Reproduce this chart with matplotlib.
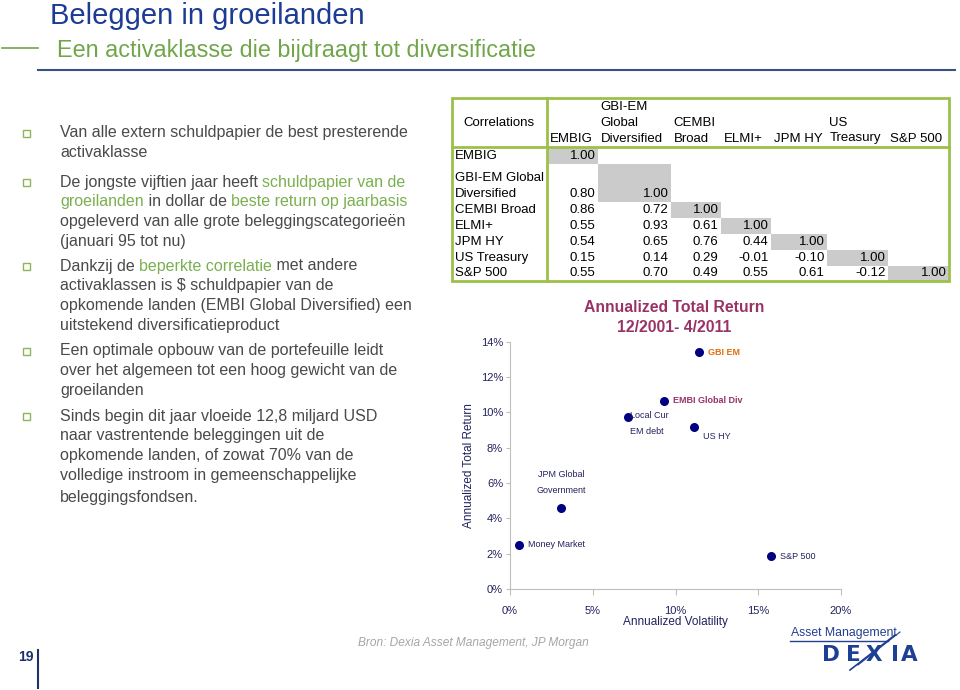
import matplotlib
matplotlib.use("Agg")
import matplotlib.pyplot as plt
from matplotlib.patches import Rectangle
from matplotlib.font_manager import FontProperties

plt.rcParams['font.family'] = ['Liberation Sans', 'DejaVu Sans']

# ---- slide texts ----
title = "Beleggen in groeilanden"
subtitle = "Een activaklasse die bijdraagt tot diversificatie"
source = "Bron: Dexia Asset Management, JP Morgan"
page_no = "19"

# each bullet is a list of lines, each line a list of (text, highlighted)
bullets = [
    [[("Van alle extern schuldpapier de best presterende", 0)],
     [("activaklasse", 0)]],
    [[("De jongste vijftien jaar heeft ", 0), ("schuldpapier van de", 1)],
     [("groeilanden", 1), (" in dollar de ", 0), ("beste return op jaarbasis", 1)],
     [("opgeleverd van alle grote beleggingscategorieën", 0)],
     [("(januari 95 tot nu)", 0)]],
    [[("Dankzij de ", 0), ("beperkte correlatie", 1), (" met andere", 0)],
     [("activaklassen is $ schuldpapier van de", 0)],
     [("opkomende landen (EMBI Global Diversified) een", 0)],
     [("uitstekend diversificatieproduct", 0)]],
    [[("Een optimale opbouw van de portefeuille leidt", 0)],
     [("over het algemeen tot een hoog gewicht van de", 0)],
     [("groeilanden", 0)]],
    [[("Sinds begin dit jaar vloeide 12,8 miljard USD", 0)],
     [("naar vastrentende beleggingen uit de", 0)],
     [("opkomende landen, of zowat 70% van de", 0)],
     [("volledige instroom in gemeenschappelijke", 0)],
     [("beleggingsfondsen.", 0)]],
]

# ---- correlation table ----
corr_cols = ["EMBIG", "GBI-EM\nGlobal\nDiversified", "CEMBI\nBroad", "ELMI+",
             "JPM HY", "US\nTreasury", "S&P 500"]
corr_rows = ["EMBIG", "GBI-EM Global\nDiversified", "CEMBI Broad", "ELMI+",
             "JPM HY", "US Treasury", "S&P 500"]
corr = [
    [1.00],
    [0.80, 1.00],
    [0.86, 0.72, 1.00],
    [0.55, 0.93, 0.61, 1.00],
    [0.54, 0.65, 0.76, 0.44, 1.00],
    [0.15, 0.14, 0.29, -0.01, -0.10, 1.00],
    [0.55, 0.70, 0.49, 0.55, 0.61, -0.12, 1.00],
]

# ---- risk / return scatter ----
assets = ["GBI EM", "EMBI Global Div", "Local Cur\nEM debt", "US HY",
          "JPM Global\nGovernment", "Money Market", "S&P 500"]
volatility = [11.4, 9.3, 7.1, 11.1, 3.1, 0.55, 15.75]   # %
total_return = [13.4, 10.65, 9.75, 9.15, 4.6, 2.5, 1.85]  # %

NAVY = '#1c3c94'
BODY = '#4a4a4a'
HILITE = '#7ab04f'
TGREEN = '#9dc04b'

fig = plt.figure(figsize=(9.6, 6.9), dpi=100)
# overlay in pixel units for the slide furniture
ov = fig.add_axes([0, 0, 1, 1])
ov.set_xlim(0, 960)
ov.set_ylim(690, 0)
ov.axis('off')

renderer = fig.canvas.get_renderer()


def advance(s, fp):
    # width of s including trailing spaces
    w1, _, _ = renderer.get_text_width_height_descent(s + "x", fp, ismath=False)
    w2, _, _ = renderer.get_text_width_height_descent("x", fp, ismath=False)
    return w1 - w2


# title block
ov.text(50, 24, title, fontsize=21, color=NAVY, va='baseline')
ov.text(57, 57, subtitle, fontsize=16.8, color='#70a64a', va='baseline')
ov.plot([2, 38], [48, 48], color='#70a64a', lw=1.2)
ov.plot([38, 955], [69.5, 69.5], color='#3a4f86', lw=1.5)

# bullets
body_size = 11.5
fp = FontProperties(family=['Liberation Sans'], size=body_size)
bullet_y = [133, 182, 266, 351, 416]
for b, y0 in zip(bullets, bullet_y):
    ov.add_patch(Rectangle((23, y0 - 3.5), 7, 7, fill=False, ec='#8fb35a', lw=1.0))
    for i, line in enumerate(b):
        y = y0 + i * 19.8
        if b is bullets[-1] and i == len(b) - 1:
            y += 2
        prefix = ""
        for txt, hl in line:
            x = 60 + (advance(prefix, fp) if prefix else 0)
            ov.text(x, y, txt, fontsize=body_size, color=HILITE if hl else BODY,
                    va='center', ha='left')
            prefix += txt

# table
col_edges = [547, 598, 671, 721, 771, 827, 888, 949]
row_edges = [147, 164, 202, 218, 234, 250, 266, 281]
tsize = 9.5
for i in range(len(corr_rows)):
    ov.add_patch(Rectangle((col_edges[i], row_edges[i]), col_edges[i + 1] - col_edges[i],
                           row_edges[i + 1] - row_edges[i], color='#cbcbcb', lw=0))
ov.add_patch(Rectangle((452, 98), 949 - 452, 281 - 98, fill=False, ec=TGREEN, lw=2))
ov.plot([547, 547], [98, 281], color=TGREEN, lw=2)
ov.plot([452, 949], [147, 147], color=TGREEN, lw=2)
ov.text(499, 123, "Correlations", fontsize=tsize, ha='center', va='center')
for j, lab in enumerate(corr_cols):
    parts = lab.split("\n")
    for k, p in enumerate(parts):
        ov.text(col_edges[j] + 2.5, 138.5 - 15.5 * (len(parts) - 1 - k), p,
                fontsize=tsize, ha='left', va='center')
for i, lab in enumerate(corr_rows):
    parts = lab.split("\n")
    yb = row_edges[i + 1] - 8
    for k, p in enumerate(parts):
        ov.text(455, yb - 16 * (len(parts) - 1 - k), p, fontsize=tsize,
                ha='left', va='center')
    for j, v in enumerate(corr[i]):
        ov.text(col_edges[j + 1] - 2.5, yb, f"{v:.2f}", fontsize=tsize,
                ha='right', va='center')

# chart title
ov.text(674, 307, "Annualized Total Return", fontsize=11.3, fontweight='bold',
        color='#993366', ha='center', va='center')
ov.text(674, 328, "12/2001- 4/2011", fontsize=11.3, fontweight='bold',
        color='#993366', ha='center', va='center')

# footer
ov.text(358, 643, source, fontsize=8.6, style='italic', color='#a6a6a6', va='center')
ov.text(26, 657, page_no, fontsize=10, fontweight='bold', color='#1f2f6a',
        ha='center', va='center')
ov.plot([38, 38], [650, 688], color='#1f2f6a', lw=1.5)

# logo
ov.text(791, 633, "Asset Management", fontsize=8.8, color='#23408f', va='center')
ov.plot([790, 888], [640.5, 640.5], color='#23408f', lw=1)
for ch, xc in zip("DEXIA", [831, 853, 874, 895, 909]):
    ov.text(xc, 655, ch, fontsize=15.5, fontweight='bold', color='#1f3f95',
            family='DejaVu Sans', ha='center', va='center')
ov.plot([850, 895], [670, 635], color='#1f3f95', lw=1.2)
ov.plot([858, 900], [665, 632], color='#1f3f95', lw=0.8)

# scatter chart
CHART = '#22225e'
ax = fig.add_axes([510 / 960, (690 - 589) / 690, (841 - 510) / 960, (589 - 341.7) / 690])
ax.scatter(volatility, total_return, s=30, color='#000080', zorder=3, clip_on=False)
ax.set_xlim(0, 20)
ax.set_ylim(0, 14)
ax.set_xticks([0, 5, 10, 15, 20])
ax.set_yticks(range(0, 15, 2))
ax.set_xticklabels([f"{v}%" for v in [0, 5, 10, 15, 20]])
ax.set_yticklabels([f"{v}%" for v in range(0, 15, 2)])
for s in ['top', 'right']:
    ax.spines[s].set_visible(False)
for s in ['left', 'bottom']:
    ax.spines[s].set_color('#bfbfbf')
    ax.spines[s].set_linewidth(0.8)
ax.tick_params(axis='x', length=4, color='#bfbfbf', labelsize=8, labelcolor=CHART, pad=8)
ax.tick_params(axis='y', length=3, color='#bfbfbf', labelsize=8, labelcolor=CHART, pad=2)
ax.patch.set_alpha(0)
ax.set_xlabel("Annualized Volatility", fontsize=8.5, color=CHART, labelpad=0)
ax.set_ylabel("Annualized Total Return", fontsize=8.5, color=CHART, labelpad=4)

label_style = {
    "GBI EM": dict(off=(9, 0), color='#e46c0a', weight='bold', ha='left'),
    "EMBI Global Div": dict(off=(9, 0), color='#993366', weight='bold', ha='left'),
    "Local Cur\nEM debt": dict(off=(2, -7), color=CHART, weight='normal', ha='left'),
    "US HY": dict(off=(9, -9), color=CHART, weight='normal', ha='left'),
    "JPM Global\nGovernment": dict(off=(0, 25), color=CHART, weight='normal', ha='center'),
    "Money Market": dict(off=(9, 0), color=CHART, weight='normal', ha='left'),
    "S&P 500": dict(off=(9, 0), color=CHART, weight='normal', ha='left'),
}
for name, x, y in zip(assets, volatility, total_return):
    st = label_style[name]
    ax.annotate(name, (x, y), xytext=st['off'], textcoords='offset pixels',
                fontsize=6.5, color=st['color'], fontweight=st['weight'],
                ha=st['ha'], va='center', linespacing=2.0, annotation_clip=False)

fig.savefig("out.png", dpi=100)
